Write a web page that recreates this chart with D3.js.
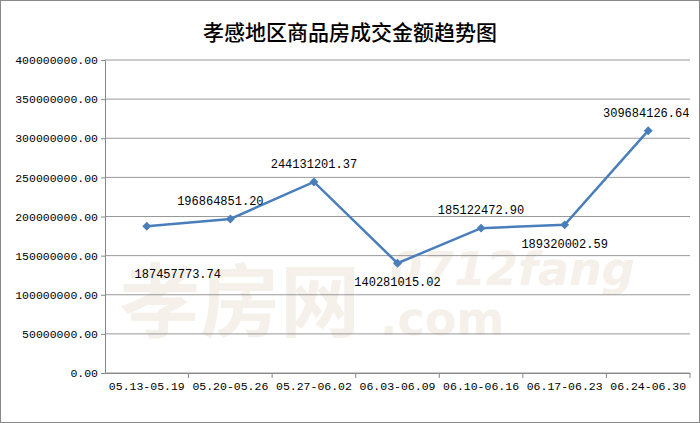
<!DOCTYPE html>
<html><head><meta charset="utf-8">
<script src="https://cdn.jsdelivr.net/npm/d3@7"></script>
<style>body{margin:0;background:#fff}</style>
</head><body><div id="chart"></div>
<script>
var categories = ['05.13-05.19','05.20-05.26','05.27-06.02','06.03-06.09','06.10-06.16','06.17-06.23','06.24-06.30'];
var values = [187457773.74,196864851.20,244131201.37,140281015.02,185122472.90,189320002.59,309684126.64];
var labelSide = ['below','above','above','below','above','below','above'];
var yTicks = [0,50000000,100000000,150000000,200000000,250000000,300000000,350000000,400000000];

var width = 700, height = 423;
var m = {top: 60, right: 10, bottom: 50, left: 105};
var svg = d3.select('#chart').append('svg').attr('width', width).attr('height', height);

svg.append('rect').attr('x', 0.5).attr('y', 0.5).attr('width', width - 1).attr('height', height - 1)
	.attr('fill', '#fff').attr('stroke', '#888');

svg.append('text').attr('x', 350).attr('y', 40).attr('text-anchor', 'middle')
	.attr('font-family', 'Noto Sans CJK SC').attr('font-size', 21).attr('font-weight', 500)
	.text('孝感地区商品房成交金额趋势图');

// watermark
svg.append('text').attr('x', 120).attr('y', 330).attr('font-family', 'Noto Sans CJK SC')
	.attr('font-size', 80).attr('font-weight', 'bold').attr('fill', '#f5f0ea').text('孝房网');
svg.append('text').attr('x', 390).attr('y', 285).attr('font-family', 'DejaVu Sans')
	.attr('font-size', 46).attr('font-style', 'italic').attr('font-weight', 'bold').attr('fill', '#f5f0ea').text('0712fang');
svg.append('text').attr('x', 380).attr('y', 335).attr('font-family', 'DejaVu Sans')
	.attr('font-size', 46).attr('font-weight', 'bold').attr('fill', '#f5f0ea').text('.com');

var x = d3.scaleBand().domain(categories).range([m.left, width - m.right]);
var y = d3.scaleLinear().domain([0, 400000000]).range([height - m.bottom, m.top]);

svg.append('g').selectAll('line').data(yTicks).enter().append('line')
	.attr('x1', m.left).attr('x2', width - m.right)
	.attr('y1', d => y(d)).attr('y2', d => y(d)).attr('stroke', '#999').attr('stroke-width', 1);

var yAxis = svg.append('g').attr('transform', 'translate(' + m.left + ',0)')
	.call(d3.axisLeft(y).tickValues(yTicks).tickFormat(d => d3.format('.2f')(d)).tickSize(4));
var xAxis = svg.append('g').attr('transform', 'translate(0,' + (height - m.bottom) + ')')
	.call(d3.axisBottom(x).tickSize(0).tickPadding(9));
xAxis.selectAll('.tick').append('line').attr('x1', x.bandwidth() / 2).attr('x2', x.bandwidth() / 2)
	.attr('y1', 0).attr('y2', 5).attr('stroke', '#888');
[yAxis, xAxis].forEach(a => {
	a.select('.domain').attr('stroke', '#888');
	a.selectAll('.tick line').attr('stroke', '#888');
	a.selectAll('text').attr('font-family', 'Liberation Mono').attr('font-size', 11.5).attr('fill', '#000');
});

var cx = d => x(d) + x.bandwidth() / 2;
var line = d3.line().x((d, i) => cx(categories[i])).y(d => y(d));
svg.append('path').datum(values).attr('d', line).attr('fill', 'none')
	.attr('stroke', '#4a7ebb').attr('stroke-width', 2.5);

svg.append('g').selectAll('path').data(values).enter().append('path')
	.attr('d', d3.symbol(d3.symbolSquare, 40))
	.attr('transform', (d, i) => 'translate(' + cx(categories[i]) + ',' + y(d) + ') rotate(45)')
	.attr('fill', '#4a7ebb');

svg.append('g').selectAll('text').data(values).enter().append('text')
	.attr('x', (d, i) => cx(categories[i]) + (i == 0 ? 31 : i == 1 ? -10 : i == 6 ? -2 : 0))
	.attr('y', (d, i) => y(d) + (i == 0 ? 52 : labelSide[i] == 'above' ? -14 : 23))
	.attr('text-anchor', 'middle').attr('font-family', 'Liberation Mono').attr('font-size', 12)
	.text(d => d3.format('.2f')(d));
</script></body></html>
